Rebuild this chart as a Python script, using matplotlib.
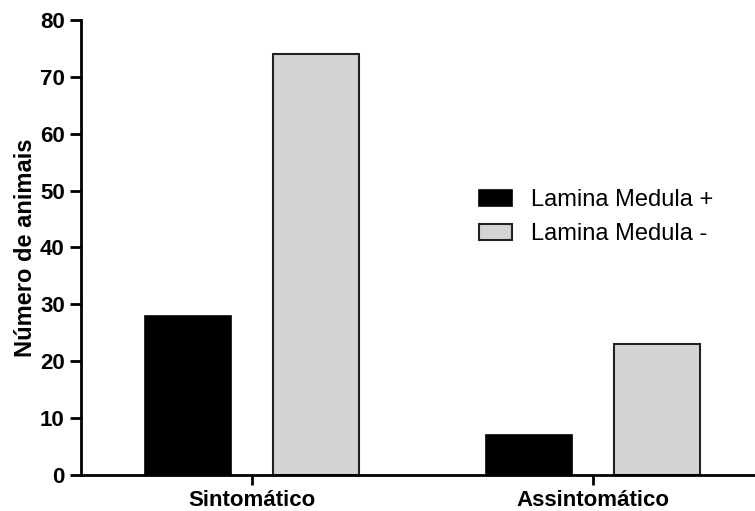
import numpy as np
import matplotlib.pyplot as plt

plt.rcParams['font.family'] = ['Liberation Sans', 'DejaVu Sans']

# dados
categorias = ['Sintomático', 'Assintomático']
lamina_pos = [28, 7]
lamina_neg = [74, 23]
legendas = ['Lamina Medula +', 'Lamina Medula -']

fig = plt.figure(figsize=(7.55, 5.11), dpi=100)
ax = fig.add_axes([0.107, 0.0705, 0.893, 0.8905])

x = np.arange(len(categorias))
w = 0.252
off = 0.188
ax.bar(x - off, lamina_pos, w, color='black', edgecolor='black', linewidth=1.2, label=legendas[0])
ax.bar(x + off, lamina_neg, w, color='#d4d4d4', edgecolor='#222222', linewidth=1.5, label=legendas[1])

ax.set_xlim(-0.501, 1.475)
ax.set_ylim(0, 80)
ax.set_yticks(np.arange(0, 81, 10))
ax.set_xticks(x)
ax.set_xticklabels(categorias, fontsize=16, fontweight='bold')
ax.tick_params(axis='y', labelsize=16, width=2, length=8)
ax.tick_params(axis='x', width=2, length=7, pad=4)
for lbl in ax.get_yticklabels():
    lbl.set_fontweight('bold')
ax.set_ylabel('Número de animais', fontsize=17, fontweight='bold', labelpad=2)

for s in ['top', 'right']:
    ax.spines[s].set_visible(False)
ax.spines['left'].set_linewidth(2)
ax.spines['bottom'].set_linewidth(2)

ax.legend(loc='upper left', bbox_to_anchor=(458 / 755, 1 - 168 / 511), bbox_transform=fig.transFigure,
          frameon=False, fontsize=17, handlelength=1.4, handleheight=0.68, handletextpad=0.8,
          labelspacing=0.5)

fig.savefig('out.png', dpi=100)
